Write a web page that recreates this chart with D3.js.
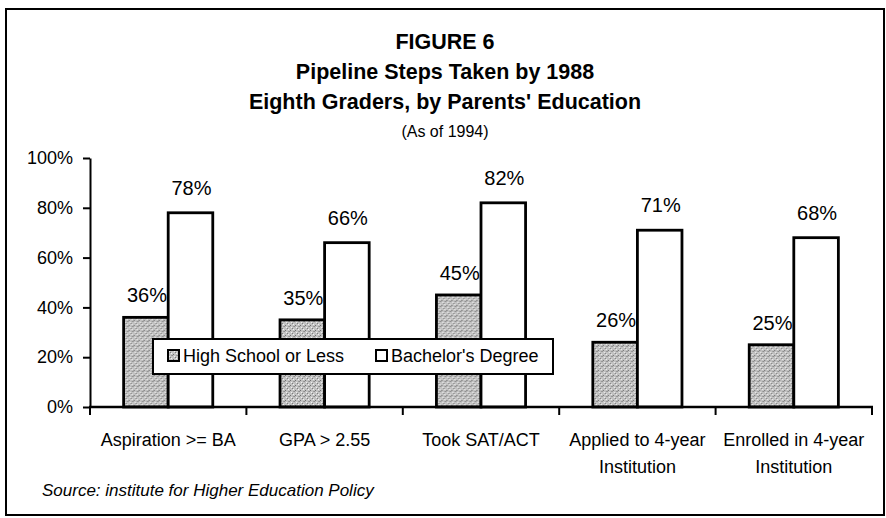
<!DOCTYPE html>
<html>
<head>
<meta charset="utf-8">
<script src="https://cdn.jsdelivr.net/npm/d3@7"></script>
<style>
  body { margin: 0; background: #fff; }
  svg { display: block; }
  text { font-family: "Liberation Sans", Arial, sans-serif; fill: #000; }
</style>
</head>
<body>
<svg id="chart" width="886" height="518"></svg>
<script>
// data
var categories = ["Aspiration >= BA", "GPA > 2.55", "Took SAT/ACT", "Applied to 4-year Institution", "Enrolled in 4-year Institution"];
var categoryLines = [["Aspiration >= BA"], ["GPA > 2.55"], ["Took SAT/ACT"], ["Applied to 4-year", "Institution"], ["Enrolled in 4-year", "Institution"]];
var series = ["High School or Less", "Bachelor's Degree"];
var highSchool = [36, 35, 45, 26, 25];
var bachelors = [78, 66, 82, 71, 68];
var yTicks = [0, 20, 40, 60, 80, 100];
var titleLines = ["FIGURE 6", "Pipeline Steps Taken by 1988", "Eighth Graders, by Parents' Education"];
var subtitle = "(As of 1994)";
var source = "Source: institute for Higher Education Policy";

var svg = d3.select("#chart");
var margin = {left: 90, right: 14, top: 158, bottom: 111};
var width = +svg.attr("width");
var height = +svg.attr("height");

// stipple pattern for the grey bars
var defs = svg.append("defs");
var pat = defs.append("pattern")
  .attr("id", "stipple")
  .attr("patternUnits", "userSpaceOnUse")
  .attr("width", 5).attr("height", 5);
pat.append("rect").attr("width", 5).attr("height", 5).attr("fill", "#c2c2c2");
[[0, 0, "#6e6e6e"], [2, 3, "#7c7c7c"], [4, 1, "#8a8a8a"], [1, 2, "#f0f0f0"], [3, 4, "#f4f4f4"], [3, 1, "#9a9a9a"]].forEach(function(p) {
  pat.append("rect").attr("x", p[0]).attr("y", p[1]).attr("width", 1).attr("height", 1).attr("fill", p[2]);
});

// outer frame
svg.append("rect")
  .attr("x", 6).attr("y", 9)
  .attr("width", 878).attr("height", 506)
  .attr("fill", "none")
  .attr("stroke", "#000")
  .attr("stroke-width", 2);

// titles
svg.selectAll(".title")
  .data(titleLines)
  .enter().append("text")
  .attr("class", "title")
  .attr("x", 445)
  .attr("y", function(d, i) { return 49 + i * 30; })
  .attr("text-anchor", "middle")
  .style("font-size", "21.5px")
  .style("font-weight", "bold")
  .text(function(d) { return d; });

svg.append("text")
  .attr("x", 445).attr("y", 137)
  .attr("text-anchor", "middle")
  .style("font-size", "16px")
  .text(subtitle);

var x = d3.scaleBand()
  .domain(categories)
  .range([margin.left, width - margin.right])
  .paddingInner(0.43)
  .paddingOuter(0.215);

var x1 = d3.scaleBand()
  .domain(series)
  .range([0, x.bandwidth()]);

var y = d3.scaleLinear()
  .domain([0, 100])
  .range([height - margin.bottom, margin.top]);

var rows = categories.map(function(c, i) {
  return {cat: c, values: [{s: series[0], v: highSchool[i]}, {s: series[1], v: bachelors[i]}]};
});

var g = svg.append("g");

// bars
var groups = g.selectAll(".grp")
  .data(rows)
  .enter().append("g")
  .attr("class", "grp")
  .attr("transform", function(d) { return "translate(" + x(d.cat) + ",0)"; });

groups.selectAll("rect")
  .data(function(d) { return d.values; })
  .enter().append("rect")
  .attr("x", function(d) { return x1(d.s); })
  .attr("y", function(d) { return y(d.v); })
  .attr("width", x1.bandwidth())
  .attr("height", function(d) { return y(0) - y(d.v); })
  .attr("fill", function(d) { return d.s === series[0] ? "url(#stipple)" : "#fff"; })
  .attr("stroke", "#000")
  .attr("stroke-width", 2.8);

groups.selectAll(".val")
  .data(function(d) { return d.values; })
  .enter().append("text")
  .attr("class", "val")
  .attr("x", function(d) { return x1(d.s) + x1.bandwidth() / 2 + 1; })
  .attr("y", function(d) { return y(d.v) - (d.s === series[0] ? 15 : 18); })
  .attr("text-anchor", "middle")
  .style("font-size", "20px")
  .text(function(d) { return d.v + "%"; });

// y axis
var yAxis = d3.axisLeft(y)
  .tickValues(yTicks)
  .tickSize(7)
  .tickSizeOuter(0)
  .tickPadding(10)
  .tickFormat(function(d) { return d + "%"; });

var ya = svg.append("g")
  .attr("transform", "translate(" + margin.left + ",0)")
  .call(yAxis);
ya.select(".domain").attr("stroke", "#000").attr("stroke-width", 2);
ya.selectAll(".tick line").attr("stroke", "#000").attr("stroke-width", 2);
ya.selectAll(".tick text")
  .attr("fill", "#000")
  .style("font-size", "18px")
  .style("font-family", "'Liberation Sans', Arial, sans-serif");

// x axis: baseline with ticks at category boundaries
var x0 = x.range()[0];
var x2 = x.range()[1];
var bounds = d3.range(categories.length + 1).map(function(i) { return x0 + i * x.step(); });

svg.append("line")
  .attr("x1", x0 - 1).attr("x2", x2 + 1)
  .attr("y1", y(0)).attr("y2", y(0))
  .attr("stroke", "#000").attr("stroke-width", 2.5);

svg.selectAll(".xtick")
  .data(bounds)
  .enter().append("line")
  .attr("class", "xtick")
  .attr("x1", function(d) { return d; })
  .attr("x2", function(d) { return d; })
  .attr("y1", y(0))
  .attr("y2", y(0) + 8)
  .attr("stroke", "#000")
  .attr("stroke-width", 2);

// category labels
var catLabels = svg.selectAll(".cat")
  .data(categories)
  .enter().append("text")
  .attr("class", "cat")
  .attr("x", function(d) { return x(d) + x.bandwidth() / 2; })
  .attr("y", 446)
  .attr("text-anchor", "middle")
  .style("font-size", "18px");

catLabels.selectAll("tspan")
  .data(function(d, i) { return categoryLines[i]; })
  .enter().append("tspan")
  .attr("x", function() { var p = d3.select(this.parentNode).datum(); return x(p) + x.bandwidth() / 2; })
  .attr("dy", function(d, i) { return i === 0 ? 0 : 27; })
  .text(function(d) { return d; });

// legend
var legend = svg.append("g").attr("transform", "translate(153,339)");
legend.append("rect")
  .attr("width", 400).attr("height", 35)
  .attr("fill", "#fff")
  .attr("stroke", "#000")
  .attr("stroke-width", 2);

var legendX = [15, 223];
var items = legend.selectAll(".item")
  .data(series)
  .enter().append("g")
  .attr("class", "item")
  .attr("transform", function(d, i) { return "translate(" + legendX[i] + ",0)"; });

items.append("rect")
  .attr("y", 11)
  .attr("width", 11).attr("height", 11)
  .attr("fill", function(d, i) { return i === 0 ? "url(#stipple)" : "#fff"; })
  .attr("stroke", "#000")
  .attr("stroke-width", 2);

items.append("text")
  .attr("x", 15)
  .attr("y", 23)
  .style("font-size", "18px")
  .text(function(d) { return d; });

// source note
svg.append("text")
  .attr("x", 42).attr("y", 496)
  .style("font-size", "17px")
  .style("font-style", "italic")
  .text(source);
</script>
</body>
</html>
